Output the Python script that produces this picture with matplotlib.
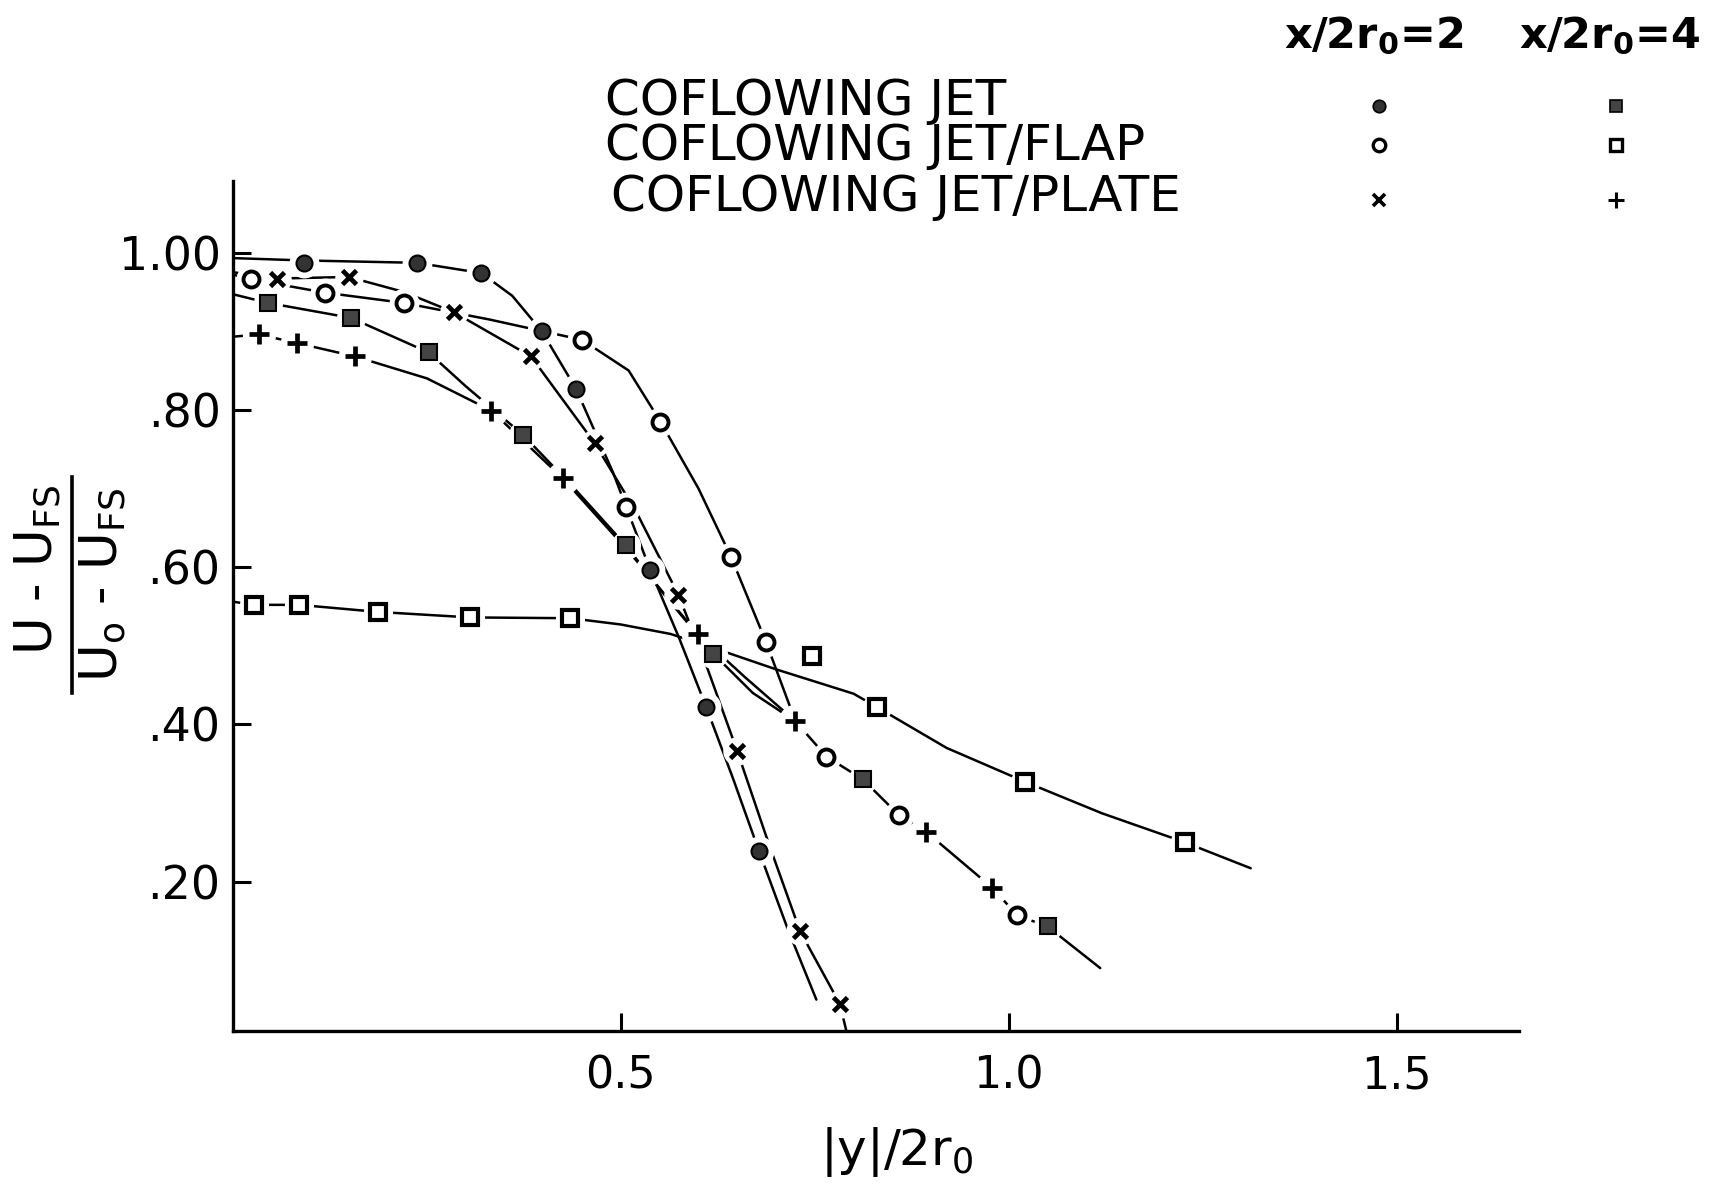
import numpy as np
import matplotlib.pyplot as plt
from matplotlib.lines import Line2D

# measured points, |y|/2r0 vs (U-Ufs)/(Uo-Ufs)
jet2_x = [0.091, 0.237, 0.320, 0.398, 0.442, 0.538, 0.610, 0.678]
jet2_y = [0.987, 0.987, 0.974, 0.900, 0.827, 0.596, 0.422, 0.239]
flap2_x = [0.023, 0.119, 0.220, 0.450, 0.506, 0.551, 0.642, 0.687, 0.765, 0.858, 1.011]
flap2_y = [0.966, 0.949, 0.936, 0.889, 0.676, 0.785, 0.613, 0.505, 0.359, 0.285, 0.157]
plate2_x = [0.057, 0.149, 0.285, 0.384, 0.466, 0.574, 0.650, 0.731, 0.782]
plate2_y = [0.967, 0.969, 0.924, 0.868, 0.758, 0.565, 0.366, 0.137, 0.045]
jet4_x = [0.045, 0.152, 0.252, 0.374, 0.506, 0.619, 0.812, 1.050]
jet4_y = [0.936, 0.917, 0.873, 0.768, 0.628, 0.490, 0.330, 0.143]
flap4_x = [0.027, 0.085, 0.187, 0.306, 0.435, 0.746, 0.830, 1.021, 1.227]
flap4_y = [0.552, 0.552, 0.543, 0.536, 0.535, 0.487, 0.422, 0.327, 0.250]
plate4_x = [0.033, 0.082, 0.157, 0.333, 0.425, 0.599, 0.725, 0.894, 0.979]
plate4_y = [0.896, 0.885, 0.868, 0.799, 0.713, 0.515, 0.404, 0.263, 0.192]

# hand faired curves
fair_jet2_x = [0, 0.091, 0.237, 0.320, 0.36, 0.398, 0.442, 0.49, 0.538, 0.575, 0.610, 0.645, 0.678, 0.715, 0.752]
fair_jet2_y = [0.993, 0.990, 0.987, 0.974, 0.945, 0.900, 0.827, 0.72, 0.596, 0.51, 0.422, 0.33, 0.239, 0.14, 0.05]
fair_plate2_x = [0, 0.057, 0.149, 0.22, 0.285, 0.384, 0.466, 0.52, 0.574, 0.612, 0.650, 0.69, 0.731, 0.782, 0.792]
fair_plate2_y = [0.975, 0.967, 0.969, 0.95, 0.924, 0.868, 0.758, 0.67, 0.565, 0.47, 0.366, 0.25, 0.137, 0.045, 0.005]
fair_flap2_x = [0, 0.023, 0.119, 0.220, 0.33, 0.45, 0.51, 0.551, 0.60, 0.642, 0.687, 0.725, 0.765,
                0.812, 0.858, 0.894, 0.979, 1.011, 1.05, 1.118]
fair_flap2_y = [0.972, 0.966, 0.949, 0.936, 0.915, 0.889, 0.85, 0.785, 0.70, 0.613, 0.505, 0.404, 0.359,
                0.330, 0.285, 0.263, 0.192, 0.157, 0.143, 0.09]
fair_jet4_x = [0, 0.045, 0.152, 0.252, 0.30, 0.374, 0.44, 0.506, 0.56, 0.619, 0.67, 0.725]
fair_jet4_y = [0.947, 0.936, 0.917, 0.873, 0.83, 0.768, 0.70, 0.628, 0.56, 0.490, 0.44, 0.404]
fair_plate4_x = [0, 0.033, 0.082, 0.157, 0.25, 0.333, 0.425, 0.51, 0.599, 0.66, 0.725]
fair_plate4_y = [0.893, 0.896, 0.885, 0.868, 0.84, 0.799, 0.713, 0.62, 0.515, 0.46, 0.404]
fair_flap4_x = [0, 0.027, 0.085, 0.187, 0.306, 0.435, 0.50, 0.564, 0.62, 0.70, 0.80, 0.830, 0.92,
                1.021, 1.12, 1.227, 1.312]
fair_flap4_y = [0.556, 0.552, 0.552, 0.543, 0.536, 0.535, 0.527, 0.515, 0.497, 0.47, 0.439, 0.422, 0.37,
                0.327, 0.287, 0.250, 0.217]

ytick_vals = [0.2, 0.4, 0.6, 0.8, 1.0]
ytick_labels = ['.20', '.40', '.60', '.80', '1.00']
xtick_vals = [0.5, 1.0, 1.5]
xtick_labels = ['0.5', '1.0', '1.5']

names = ['COFLOWING JET', 'COFLOWING JET/FLAP', 'COFLOWING JET/PLATE']

fig = plt.figure(figsize=(17.2, 11.84), dpi=100)
ax = fig.add_axes([0.1355, 0.1292, 0.7477, 0.7179])

for fx, fy in [(fair_jet2_x, fair_jet2_y), (fair_plate2_x, fair_plate2_y),
               (fair_flap2_x, fair_flap2_y), (fair_jet4_x, fair_jet4_y),
               (fair_plate4_x, fair_plate4_y), (fair_flap4_x, fair_flap4_y)]:
    ax.plot(fx, fy, color='k', lw=1.8, zorder=2, solid_capstyle='round')

# marker styles: (x, y, marker, size, face, edge width)
styles = [
    (jet2_x, jet2_y, 'o', 11.5, '#333333', 1.5),
    (flap2_x, flap2_y, 'o', 11.5, 'white', 2.8),
    (plate2_x, plate2_y, 'x', 10.5, 'k', 3.4),
    (jet4_x, jet4_y, 's', 11, '#444444', 1.5),
    (flap4_x, flap4_y, 's', 11, 'white', 3.0),
    (plate4_x, plate4_y, '+', 14, 'k', 3.4),
]

for xs, ys, m, s, fc, mew in styles:
    # white halo to break the line around each point
    ax.plot(xs, ys, ls='none', marker='o', ms=s + 9, mfc='white', mec='white', zorder=3)
    ax.plot(xs, ys, ls='none', marker=m, ms=s, mfc=fc, mec='k', mew=mew, zorder=4)

ax.set_xlim(0, 1.658)
ax.set_ylim(0.010, 1.091)
ax.spines['top'].set_visible(False)
ax.spines['right'].set_visible(False)
ax.spines['left'].set_linewidth(2.4)
ax.spines['bottom'].set_linewidth(2.4)

ax.set_yticks(ytick_vals)
ax.set_yticklabels(ytick_labels, fontsize=33)
ax.set_xticks(xtick_vals)
ax.set_xticklabels(xtick_labels, fontsize=32)
ax.tick_params(axis='y', direction='in', length=13, width=2.2, pad=9)
ax.tick_params(axis='x', direction='in', length=13, width=2.2, pad=17)

# axis labels
fig.text(0.521, 0.027, '|y|/2r$_0$', fontsize=36, ha='center', va='center')
fig.text(0.0221, 0.519, 'U - U$_{\\mathrm{FS}}$', fontsize=37, rotation=90, ha='center', va='center')
fig.text(0.0600, 0.506, 'U$_\\mathrm{o}$ - U$_{\\mathrm{FS}}$', fontsize=37, rotation=90, ha='center', va='center')
fig.add_artist(Line2D([0.0419, 0.0419], [0.415, 0.597], color='k', lw=2.6))

# legend block
fig.text(0.799, 0.970, 'x/2r$_\\mathbf{0}$=2', fontsize=31, fontweight='bold', ha='center', va='center')
fig.text(0.936, 0.970, 'x/2r$_\\mathbf{0}$=4', fontsize=31, fontweight='bold', ha='center', va='center')
row_y = [0.915, 0.877, 0.834]
for name, yy, xl in zip(names, row_y, [0.352, 0.352, 0.355]):
    fig.text(xl, yy, name, fontsize=36, ha='left', va='center')

leg_mark = [('o', 9, '#333333', 1.2), ('o', 9, 'white', 2.4), ('x', 8, 'k', 2.6)]
leg_mark4 = [('s', 9, '#444444', 1.2), ('s', 9, 'white', 2.4), ('+', 11, 'k', 2.2)]
leg_rows = [0.9105, 0.8775, 0.831]
for (m, s, fc, mew), (m4, s4, fc4, mew4), yy in zip(leg_mark, leg_mark4, leg_rows):
    ax.plot([0.802], [yy], transform=fig.transFigure, clip_on=False, ls='none',
            marker=m, ms=s, mfc=fc, mec='k', mew=mew)
    ax.plot([0.9395], [yy], transform=fig.transFigure, clip_on=False, ls='none',
            marker=m4, ms=s4, mfc=fc4, mec='k', mew=mew4)

fig.savefig('out.png', dpi=100)
